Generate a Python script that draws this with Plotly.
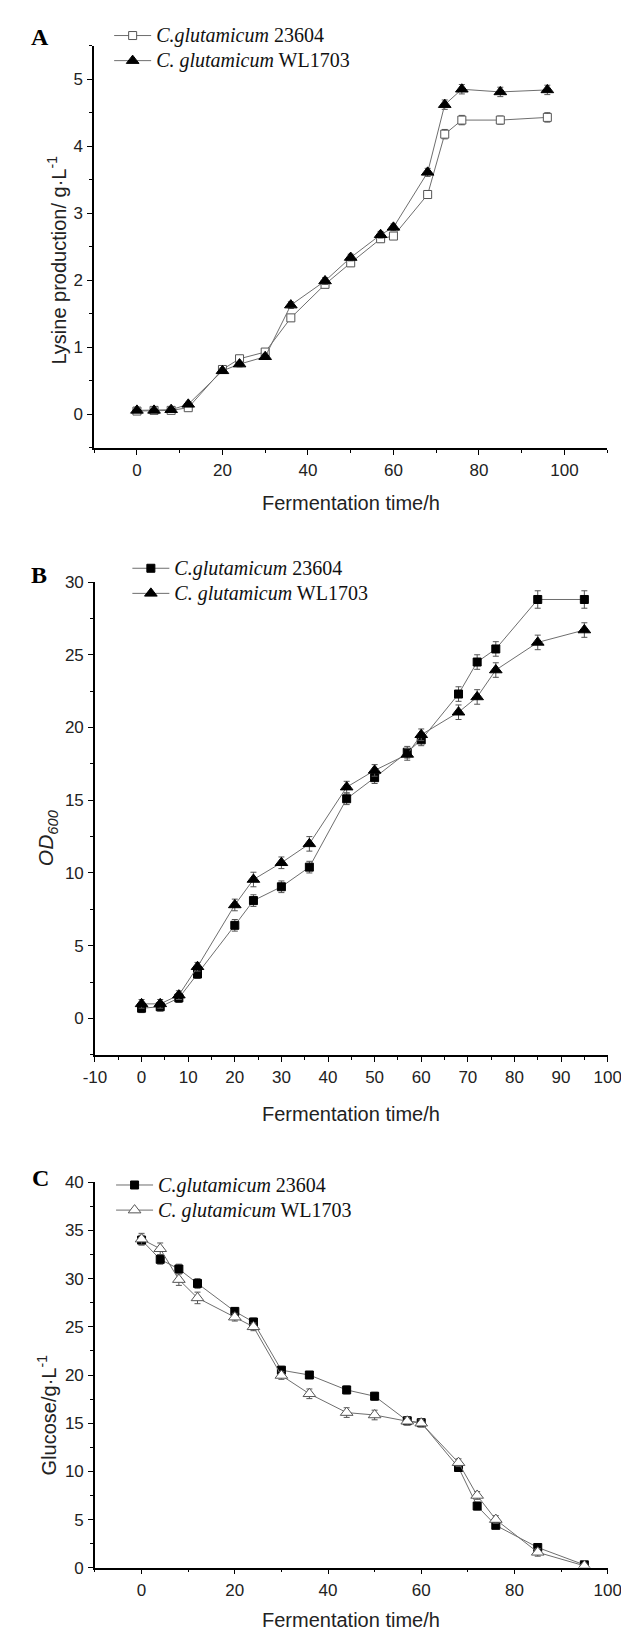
import plotly.graph_objects as go

# ---------------- data ----------------
time_A = [0, 4, 8, 12, 20, 24, 30, 36, 44, 50, 57, 60, 68, 72, 76, 85, 96]
lys_23604 = [0.05, 0.06, 0.06, 0.10, 0.67, 0.83, 0.93, 1.44, 1.94, 2.26, 2.62, 2.66, 3.28, 4.18, 4.39, 4.39, 4.43]
lys_23604_err = [0.03, 0.03, 0.03, 0.03, 0.04, 0.04, 0.04, 0.05, 0.05, 0.05, 0.05, 0.05, 0.06, 0.07, 0.07, 0.06, 0.07]
lys_WL1703 = [0.06, 0.06, 0.07, 0.15, 0.65, 0.75, 0.86, 1.63, 1.99, 2.34, 2.68, 2.79, 3.61, 4.62, 4.85, 4.81, 4.84]
lys_WL1703_err = [0.03, 0.03, 0.03, 0.03, 0.04, 0.04, 0.04, 0.05, 0.05, 0.05, 0.05, 0.05, 0.06, 0.07, 0.07, 0.07, 0.07]

time_B = [0, 4, 8, 12, 20, 24, 30, 36, 44, 50, 57, 60, 68, 72, 76, 85, 95]
od_23604 = [0.7, 0.8, 1.4, 3.05, 6.4, 8.1, 9.05, 10.4, 15.1, 16.55, 18.3, 19.15, 22.3, 24.5, 25.4, 28.8, 28.8]
od_23604_err = [0.3, 0.3, 0.3, 0.3, 0.4, 0.4, 0.4, 0.4, 0.4, 0.4, 0.4, 0.4, 0.5, 0.5, 0.5, 0.6, 0.6]
od_WL1703 = [1.0, 1.0, 1.6, 3.55, 7.8, 9.55, 10.7, 12.0, 15.9, 17.05, 18.15, 19.5, 21.05, 22.1, 23.95, 25.85, 26.7]
od_WL1703_err = [0.3, 0.3, 0.3, 0.3, 0.4, 0.5, 0.4, 0.5, 0.4, 0.4, 0.4, 0.4, 0.5, 0.5, 0.5, 0.5, 0.5]

time_C = [0, 4, 8, 12, 20, 24, 30, 36, 44, 50, 57, 60, 68, 72, 76, 85, 95]
glc_23604 = [34.0, 32.0, 31.0, 29.5, 26.6, 25.5, 20.5, 20.0, 18.45, 17.8, 15.25, 15.05, 10.4, 6.4, 4.4, 2.1, 0.3]
glc_23604_err = [0.5, 0.5, 0.5, 0.5, 0.4, 0.4, 0.4, 0.3, 0.4, 0.4, 0.4, 0.4, 0.4, 0.4, 0.3, 0.3, 0.2]
glc_WL1703 = [34.1, 33.1, 29.9, 28.0, 26.0, 25.0, 19.95, 18.05, 16.1, 15.85, 15.2, 15.0, 10.9, 7.5, 5.0, 1.6, 0.2]
glc_WL1703_err = [0.6, 0.6, 0.6, 0.6, 0.4, 0.4, 0.4, 0.5, 0.5, 0.5, 0.4, 0.4, 0.4, 0.4, 0.4, 0.4, 0.2]

# tick labels of panel B's x axis (plain hyphen for -10)
xticks_B = [-10, 0, 10, 20, 30, 40, 50, 60, 70, 80, 90, 100]
xticklabels_B = ["-10", "0", "10", "20", "30", "40", "50", "60", "70", "80", "90", "100"]

name_23604 = "<i>C.glutamicum</i> 23604"
name_WL1703 = "<i>C. glutamicum</i> WL1703"

# ---------------- layout geometry (pixels) ----------------
W, H = 629, 1632
def px(x):
    return x / W
def py(y):
    return 1 - y / H

SANS = "Liberation Sans, Arial, sans-serif"
SERIF = "Liberation Serif, Times New Roman, serif"
LINE_C = "#6e6e6e"

fig = go.Figure()

def leg_name(s):
    return '<span style="font-size:20px">%s</span>' % s

def add_series(x, y, err, name, symbol, filled, size, xa, ya, leg):
    fig.add_trace(go.Scatter(
        x=x, y=y, name=leg_name(name), mode="lines+markers",
        xaxis=xa, yaxis=ya, legend=leg,
        line=dict(color=LINE_C, width=1),
        marker=dict(symbol=symbol, size=size,
                    color="black" if filled else "white",
                    line=dict(color="black" if filled else "#555555", width=1)),
        error_y=dict(type="data", array=err, visible=True, color="#555555",
                     thickness=1, width=3),
    ))

add_series(time_A, lys_23604, lys_23604_err, name_23604, "square", False, 8, "x", "y", "legend")
add_series(time_A, lys_WL1703, lys_WL1703_err, name_WL1703, "triangle-up", True, 11, "x", "y", "legend")
add_series(time_B, od_23604, od_23604_err, name_23604, "square", True, 8, "x2", "y2", "legend2")
add_series(time_B, od_WL1703, od_WL1703_err, name_WL1703, "triangle-up", True, 11, "x2", "y2", "legend2")
add_series(time_C, glc_23604, glc_23604_err, name_23604, "square", True, 8, "x3", "y3", "legend3")
add_series(time_C, glc_WL1703, glc_WL1703_err, name_WL1703, "triangle-up", False, 11, "x3", "y3", "legend3")

def axis_common(**kw):
    d = dict(showline=True, linecolor="black", linewidth=1.5, mirror=False,
             ticks="outside", ticklen=5, tickwidth=1.2, tickcolor="black",
             showgrid=False, zeroline=False,
             tickfont=dict(family=SANS, size=17, color="#222222"),
             ticklabelstandoff=1)
    d.update(kw)
    return d

xdomA = [px(77.4), px(612.5)]
xdomBC = [px(78.2), px(613.0)]

fig.update_layout(
    width=W, height=H,
    margin=dict(l=0, r=0, t=0, b=0),
    paper_bgcolor="white", plot_bgcolor="white",
    showlegend=True,
    xaxis=axis_common(domain=xdomA, range=[-10, 110], tick0=0, dtick=20, anchor="y",
                      minor=dict(ticks="outside", ticklen=3, dtick=10, tick0=0, tickcolor="black")),
    yaxis=axis_common(domain=[py(436), py(29)], range=[-0.5, 5.5], tick0=0, dtick=1, anchor="x",
                      minor=dict(ticks="outside", ticklen=3, dtick=0.5, tick0=0, tickcolor="black")),
    xaxis2=axis_common(domain=xdomBC, range=[-10, 100], tickmode="array",
                       tickvals=xticks_B, ticktext=xticklabels_B, anchor="y2",
                       minor=dict(ticks="outside", ticklen=3, dtick=5, tick0=0, tickcolor="black")),
    yaxis2=axis_common(domain=[py(1050), py(571.7)], range=[-2.5, 30], tick0=0, dtick=5, anchor="x2",
                       minor=dict(ticks="outside", ticklen=3, dtick=2.5, tick0=0, tickcolor="black")),
    xaxis3=axis_common(domain=xdomBC, range=[-10, 100], tick0=0, dtick=20, anchor="y3",
                       minor=dict(ticks="outside", ticklen=3, dtick=10, tick0=0, tickcolor="black")),
    yaxis3=axis_common(domain=[py(1569), py(1179)], range=[0, 40], tick0=0, dtick=5, anchor="x3",
                       minor=dict(ticks="outside", ticklen=3, dtick=2.5, tick0=0, tickcolor="black")),
)

leg_style = dict(font=dict(family=SERIF, size=17, color="#111111"), bgcolor="rgba(0,0,0,0)",
                 xanchor="left", yanchor="top", itemwidth=37, tracegroupgap=0)
fig.update_layout(
    legend=dict(x=px(93), y=py(1), **leg_style),
    legend2=dict(x=px(112), y=py(540), **leg_style),
    legend3=dict(x=px(95), y=py(1164), **leg_style),
)

ann = []
# panel letters
for txt, x, y in [("A", 20.5, 20), ("B", 20, 565), ("C", 21, 1175)]:
    ann.append(dict(text="<b>%s</b>" % txt, x=px(x), y=py(y), xref="paper", yref="paper",
                    showarrow=False, xanchor="center", yanchor="middle",
                    font=dict(family=SERIF, size=24, color="black")))
# x titles
for x, y in [(345, 491.7), (345.6, 1110), (345.6, 1621.7)]:
    ann.append(dict(text="Fermentation time/h", x=px(x), y=py(y), xref="paper", yref="paper",
                    showarrow=False, xanchor="center", yanchor="middle",
                    font=dict(family=SANS, size=20, color="#222222")))
# y titles
ann.append(dict(text="Lysine production/ g·L<sup>-1</sup>", x=px(38), y=py(246), xref="paper", yref="paper",
                showarrow=False, textangle=-90, xanchor="center", yanchor="middle",
                font=dict(family=SANS, size=20, color="#222222")))
ann.append(dict(text="<i>OD</i><sub><i>600</i></sub>", x=px(29), y=py(830), xref="paper", yref="paper",
                showarrow=False, textangle=-90, xanchor="center", yanchor="middle",
                font=dict(family=SANS, size=21, color="#222222")))
ann.append(dict(text="Glucose/g·L<sup>-1</sup>", x=px(28), y=py(1414), xref="paper", yref="paper",
                showarrow=False, textangle=-90, xanchor="center", yanchor="middle",
                font=dict(family=SANS, size=20, color="#222222")))
fig.update_layout(annotations=ann)

fig.write_html("out.html")
